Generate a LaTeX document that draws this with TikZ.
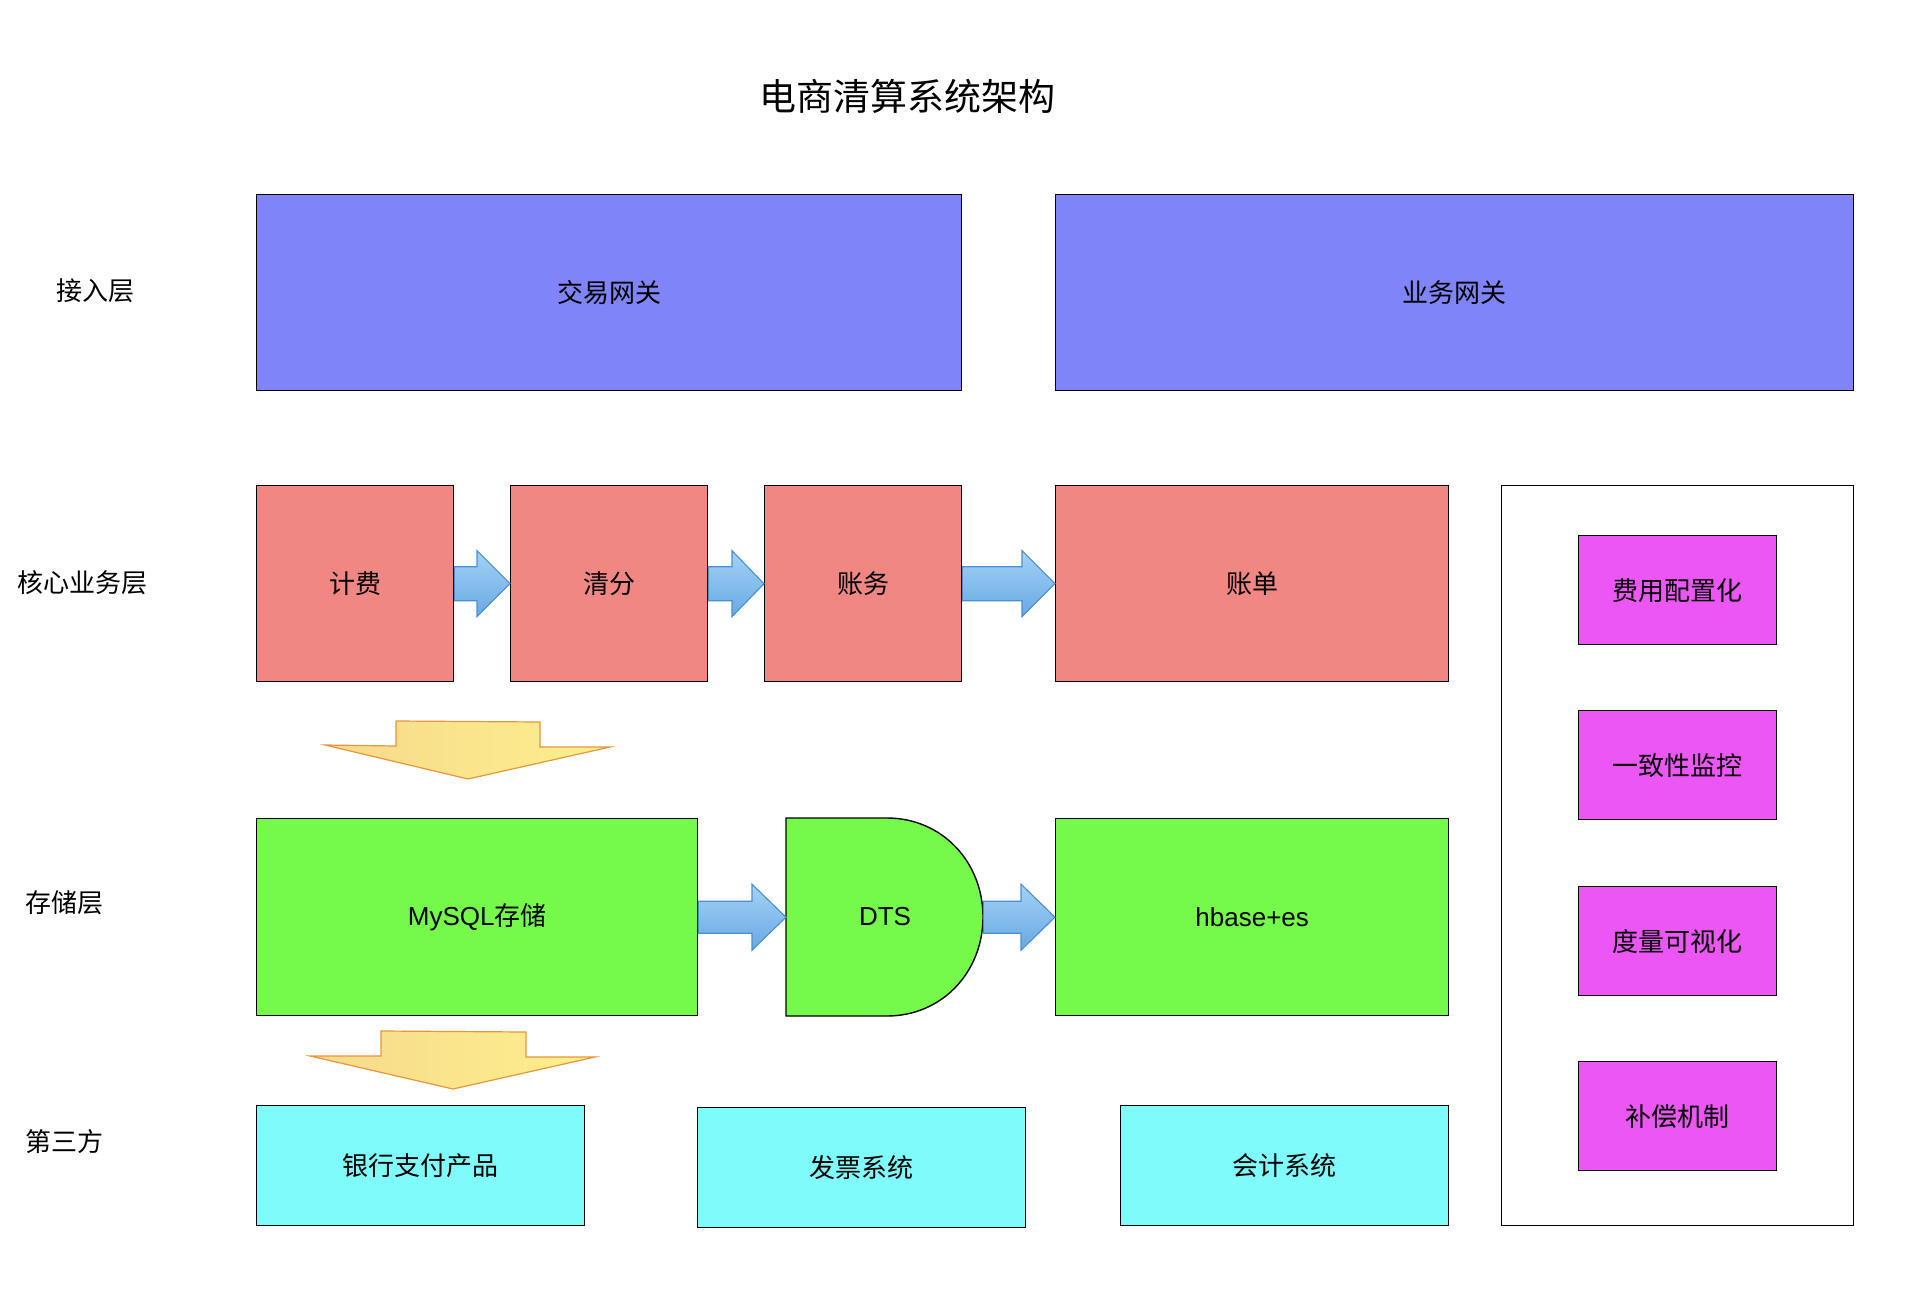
\documentclass[tikz,border=0pt]{standalone}
\usepackage{fontspec}
\setmainfont{Liberation Sans}
\newfontfamily\cjk{Noto Sans CJK SC}
\usetikzlibrary{calc}
\definecolor{gwblue}{HTML}{7F84F9}
\definecolor{corered}{HTML}{F08783}
\definecolor{storegreen}{HTML}{75FA4C}
\definecolor{thirdcyan}{HTML}{80FBFB}
\definecolor{sidemag}{HTML}{EB56F4}
\definecolor{arrtop}{HTML}{A2D2F6}
\definecolor{arrbot}{HTML}{69A8E2}
\definecolor{arredge}{HTML}{4A8FD6}
\definecolor{yleft}{HTML}{F7D98B}
\definecolor{yright}{HTML}{FDF08E}
\definecolor{yedge}{HTML}{E8963A}
\tikzset{
  box/.style={draw=black, line width=1.4pt, anchor=north west, inner sep=0pt,
    font=\fontsize{26}{30}\selectfont\cjk, text=black},
  lbl/.style={font=\fontsize{26}{30}\selectfont\cjk, text=black, inner sep=0pt},
  blockarr/.style={draw=arredge, line width=1.1pt, top color=arrtop, bottom color=arrbot, line join=miter},
  yarrow/.style={draw=yedge, line width=1.2pt, left color=yleft, right color=yright, line join=miter},
}
\newcommand\bluearr[5]{%
  \path[blockarr] ($(#1.east)+(0,-#3)$) -- ($(#2.west)+(-#5,-#3)$) -- ($(#2.west)+(-#5,-#4)$) -- (#2.west)
   -- ($(#2.west)+(-#5,#4)$) -- ($(#2.west)+(-#5,#3)$) -- ($(#1.east)+(0,#3)$) -- cycle;}
\begin{document}
\begin{tikzpicture}[x=1pt,y=-1pt]
\path[fill=white] (0,0) rectangle (1924,1308);
\useasboundingbox (0,0) rectangle (1924,1308);

\node[font=\fontsize{37}{40}\selectfont\cjk, inner sep=0pt] (title) at (907,96) {电商清算系统架构};

% layer labels
\node[lbl] (l1) at (95,291) {接入层};
\node[lbl] (l2) at (82,583) {核心业务层};
\node[lbl] (l3) at (64,903) {存储层};
\node[lbl] (l4) at (64,1142) {第三方};

% access layer
\node[box, fill=gwblue, minimum width=705pt, minimum height=196pt] (jy) at (256,194) {交易网关};
\node[box, fill=gwblue, minimum width=798pt, minimum height=196pt] (yw) at (1055,194) {业务网关};

% core layer
\node[box, fill=corered, minimum width=197pt, minimum height=196pt] (jf) at (256,485) {计费};
\node[box, fill=corered, minimum width=197pt, minimum height=196pt] (qf) at (510,485) {清分};
\node[box, fill=corered, minimum width=197pt, minimum height=196pt] (zw) at (764,485) {账务};
\node[box, fill=corered, minimum width=393pt, minimum height=196pt] (zd) at (1055,485) {账单};

% side panel
\node[box, fill=white, minimum width=352pt, minimum height=740pt] (panel) at (1501,485) {};
\node[box, fill=sidemag, minimum width=198pt, minimum height=109pt] (m1) at (1578,535) {费用配置化};
\node[box, fill=sidemag, minimum width=198pt, minimum height=109pt] (m2) at (1578,710) {一致性监控};
\node[box, fill=sidemag, minimum width=198pt, minimum height=109pt] (m3) at (1578,886) {度量可视化};
\node[box, fill=sidemag, minimum width=198pt, minimum height=109pt] (m4) at (1578,1061) {补偿机制};

% storage layer
\node[box, fill=storegreen, minimum width=441pt, minimum height=197pt] (mysql) at (256,818) {{\rmfamily MySQL}存储};
\path[draw=black, line width=1.4pt, fill=storegreen]
  (786,818) -- (887,818) .. controls (942,818) and (983,862) .. (983,917)
  .. controls (983,972) and (942,1016) .. (887,1016) -- (786,1016) -- cycle;
\node[anchor=north west, inner sep=0pt, minimum width=197pt, minimum height=198pt] (dts) at (786,818) {};
\node[font=\fontsize{26}{30}\selectfont, inner sep=0pt] (dtstext) at (885,917) {DTS};
\node[box, fill=storegreen, minimum width=393pt, minimum height=197pt, font=\fontsize{26}{30}\selectfont] (hb) at (1055,818) {hbase+es};

% third party
\node[box, fill=thirdcyan, minimum width=328pt, minimum height=120pt] (bank) at (256,1105) {银行支付产品};
\node[box, fill=thirdcyan, minimum width=328pt, minimum height=120pt] (inv) at (697,1107) {发票系统};
\node[box, fill=thirdcyan, minimum width=328pt, minimum height=120pt] (acc) at (1120,1105) {会计系统};

% blue block arrows
\bluearr{jf}{qf}{17}{33}{33}
\bluearr{qf}{zw}{17}{33}{32}
\bluearr{zw}{zd}{17}{33}{33}
\bluearr{mysql}{dts}{16}{33}{34}
\bluearr{dts}{hb}{16}{33}{34}

% yellow down arrows
\path[yarrow] (396,721) -- (540,722) -- (540,747) -- (610,747) -- (468,779) -- (325,745) -- (396,746) -- cycle;
\path[yarrow] (381,1031) -- (526,1032) -- (526,1057) -- (595,1057) -- (453,1089) -- (310,1056) -- (381,1056) -- cycle;
\end{tikzpicture}
\end{document}
